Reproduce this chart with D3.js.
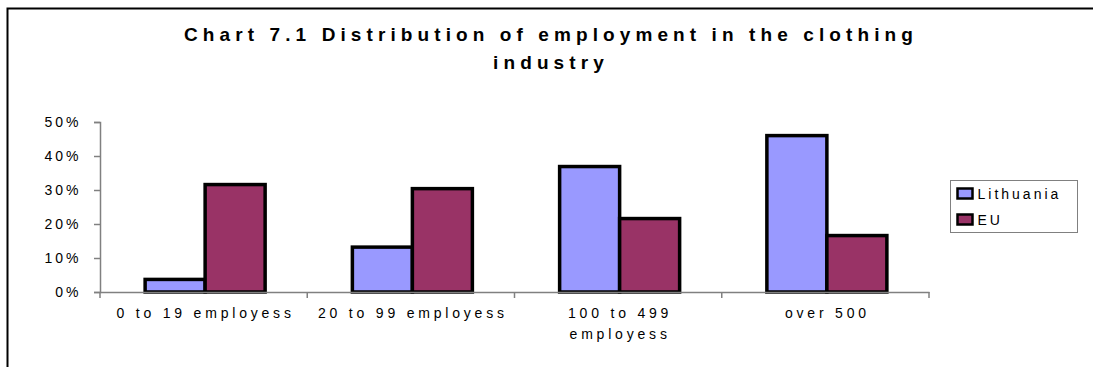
<!DOCTYPE html>
<html>
<head>
<meta charset="utf-8">
<script src="https://cdn.jsdelivr.net/npm/d3@7"></script>
<style>
  body { margin: 0; background: #fff; }
  svg { display: block; font-family: "Liberation Sans", Arial, sans-serif; }
  .title { font-size: 19px; font-weight: bold; letter-spacing: 5.1px; fill: #000; }
  .tick-label { font-size: 14px; letter-spacing: 3px; fill: #000; }
  .cat-label { font-size: 14px; letter-spacing: 3.8px; fill: #000; }
  .legend-label { font-size: 14px; letter-spacing: 3px; fill: #000; }
</style>
</head>
<body>
<div id="chart"></div>
<script>
const categories = [['0 to 19 employess'], ['20 to 99 employess'], ['100 to 499', 'employess'], ['over 500']];
const seriesNames = ['Lithuania', 'EU'];
const lithuania = [0.037, 0.132, 0.369, 0.46];
const eu = [0.316, 0.304, 0.216, 0.166];
const yTicks = [0, 0.1, 0.2, 0.3, 0.4, 0.5];
const titleLines = ['Chart 7.1 Distribution of employment in the clothing', 'industry'];

const colors = { Lithuania: '#9999ff', EU: '#993366' };
const width = 1093, height = 367;
const plot = { left: 100, right: 929, top: 122, bottom: 292 };

const svg = d3.select('#chart').append('svg')
  .attr('width', width)
  .attr('height', height);

// outer frame (cut off at right and bottom like the source)
svg.append('rect')
  .attr('x', 7.5).attr('y', 8.5)
  .attr('width', width + 10).attr('height', height + 10)
  .attr('fill', 'none').attr('stroke', '#000').attr('stroke-width', 2);

svg.append('g').selectAll('text')
  .data(titleLines)
  .join('text')
  .attr('class', 'title')
  .attr('x', 551)
  .attr('y', (d, i) => 40.5 + i * 28.5)
  .attr('text-anchor', 'middle')
  .text(d => d);

const keys = categories.map(c => c.join(' '));
const x0 = d3.scaleBand().domain(keys).range([plot.left, plot.right]);
const groupPad = (x0.bandwidth() - 120) / 2;
const x1 = d3.scaleBand().domain(seriesNames).range([groupPad, x0.bandwidth() - groupPad]);
const y = d3.scaleLinear().domain([0, 0.5]).range([plot.bottom, plot.top]);

const data = seriesNames.map((s, si) => ({ name: s, values: si === 0 ? lithuania : eu }));

// y axis
const yAxis = svg.append('g')
  .attr('transform', `translate(${plot.left},0)`)
  .call(d3.axisLeft(y).tickValues(yTicks).tickSize(6).tickPadding(12.5).tickFormat(d3.format('.0%')));
yAxis.select('.domain').attr('stroke', '#808080').attr('stroke-width', 1.5);
yAxis.selectAll('.tick line').attr('stroke', '#808080').attr('stroke-width', 1.5);
yAxis.selectAll('.tick text').attr('class', 'tick-label').attr('font-family', null).attr('font-size', null);

// bars
const groups = svg.append('g').selectAll('g')
  .data(keys)
  .join('g')
  .attr('transform', d => `translate(${x0(d)},0)`);

groups.selectAll('rect')
  .data((k, ci) => data.map(s => ({ name: s.name, value: s.values[ci] })))
  .join('rect')
  .attr('x', d => x1(d.name) + 1.5)
  .attr('width', x1.bandwidth())
  .attr('y', d => y(d.value))
  .attr('height', d => y(0) - y(d.value))
  .attr('fill', d => colors[d.name])
  .attr('stroke', '#000')
  .attr('stroke-width', 3.5);

// x axis
const xAxis = svg.append('g')
  .attr('transform', `translate(0,${plot.bottom})`)
  .call(d3.axisBottom(x0).tickSize(0).tickFormat(''));
xAxis.select('.domain').attr('stroke', '#808080').attr('stroke-width', 1.5);
xAxis.selectAll('.tick').remove();

// category boundary ticks
const bounds = keys.map(k => x0(k)).concat([plot.right]);
xAxis.append('g').selectAll('line')
  .data(bounds)
  .join('line')
  .attr('x1', d => d).attr('x2', d => d)
  .attr('y1', 0).attr('y2', 6)
  .attr('stroke', '#808080').attr('stroke-width', 1.5);

// category labels
const catLabels = svg.append('g').selectAll('text')
  .data(categories)
  .join('text')
  .attr('class', 'cat-label')
  .attr('text-anchor', 'middle')
  .attr('x', (d, i) => x0(keys[i]) + x0.bandwidth() / 2 + 2)
  .attr('y', plot.bottom + 26);
catLabels.selectAll('tspan')
  .data(d => d)
  .join('tspan')
  .attr('x', function () { return d3.select(this.parentNode).attr('x'); })
  .attr('dy', (d, i) => i === 0 ? 0 : 21)
  .text(d => d);

// legend
const legend = svg.append('g').attr('transform', 'translate(950.5,180.5)');
legend.append('rect')
  .attr('width', 127).attr('height', 52)
  .attr('fill', '#fff').attr('stroke', '#808080').attr('stroke-width', 1);
const items = legend.selectAll('g.item')
  .data(seriesNames)
  .join('g')
  .attr('class', 'item')
  .attr('transform', (d, i) => `translate(7,${8 + i * 26})`);
items.append('rect')
  .attr('width', 15).attr('height', 10)
  .attr('fill', d => colors[d])
  .attr('stroke', '#000').attr('stroke-width', 2.5);
items.append('text')
  .attr('class', 'legend-label')
  .attr('x', 20).attr('y', 10.5)
  .text(d => d);
</script>
</body>
</html>
